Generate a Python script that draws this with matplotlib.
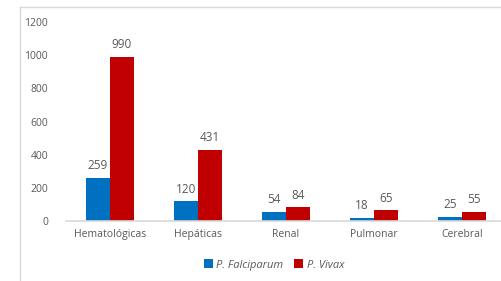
import numpy as np
import matplotlib.pyplot as plt
from matplotlib.lines import Line2D

categorias = ['Hematológicas', 'Hepáticas', 'Renal', 'Pulmonar', 'Cerebral']
falciparum = [259, 120, 54, 18, 25]
vivax = [990, 431, 84, 65, 55]
series = ['P. Falciparum', 'P. Vivax']

azul = '#0070C0'
rojo = '#C00000'
gris = '#595959'

plt.rcParams['font.family'] = ['Open Sans', 'DejaVu Sans']

fig = plt.figure(figsize=(5.02, 2.81), dpi=100)
W, H = 502, 281
ax = fig.add_axes([66 / W, 1 - 221 / H, 440 / W, 199 / H])

x = np.arange(len(categorias))
ancho = 24 / 88
b1 = ax.bar(x - ancho / 2, falciparum, ancho, color=azul, label=series[0])
b2 = ax.bar(x + ancho / 2, vivax, ancho, color=rojo, label=series[1])

for barras in (b1, b2):
    for b in barras:
        ax.annotate(str(int(b.get_height())),
                    (b.get_x() + b.get_width() / 2, b.get_height()),
                    xytext=(0, 4), textcoords='offset points',
                    ha='center', va='bottom', fontsize=8.5, color=gris)

ax.set_xlim(-0.5, len(categorias) - 0.5)
ax.set_ylim(0, 1200)
ax.set_yticks(range(0, 1201, 200))
ax.set_xticks(x)
ax.set_xticklabels(categorias)
ax.tick_params(axis='both', length=0, labelsize=7.5, colors=gris)
ax.tick_params(axis='y', pad=13)
ax.tick_params(axis='x', pad=6)
for s in ['top', 'right', 'left']:
    ax.spines[s].set_visible(False)
ax.spines['bottom'].set_color('#D9D9D9')
ax.spines['bottom'].set_linewidth(1.2)

leg = fig.legend(handles=[b1, b2], labels=series, loc='center',
                 bbox_to_anchor=(274 / W, 1 - 265 / H), ncol=2, frameon=False,
                 handlelength=0.8, handleheight=0.8,
                 handletextpad=0.3, columnspacing=1.0,
                 prop={'style': 'italic', 'size': 8})
for t in leg.get_texts():
    t.set_color(gris)

# marco del gráfico
fig.add_artist(Line2D([20 / W, 1], [1 - 7 / H, 1 - 7 / H], color='#D9D9D9', lw=1))
fig.add_artist(Line2D([20 / W, 20 / W], [0, 1 - 7 / H], color='#D9D9D9', lw=1))

fig.savefig('out.png', dpi=100)
